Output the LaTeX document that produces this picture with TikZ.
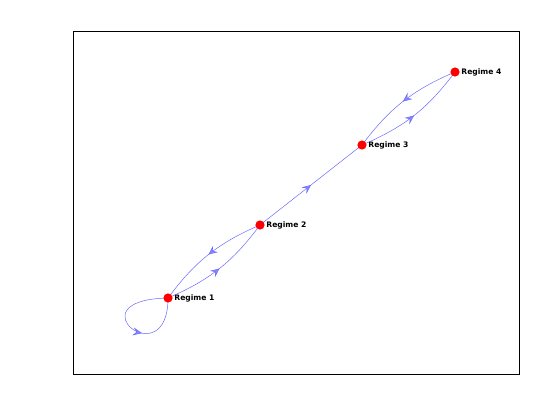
\documentclass[tikz,border=0pt]{standalone}
\usepackage{fontspec}
\setsansfont{DejaVu Sans}
\usetikzlibrary{arrows.meta,decorations.markings}
\definecolor{edgeblue}{RGB}{105,105,255}
\begin{document}
\begin{tikzpicture}[x=1pt, y=-1pt,
    regime/.style={circle, minimum size=9pt, inner sep=0pt,
        label={[font=\sffamily\bfseries\fontsize{7.6}{9}\selectfont, label distance=0pt, inner sep=1.5pt]right:#1}},
    midarrow/.style={edgeblue, line width=0.5pt, postaction={decorate},
        decoration={markings, mark=at position #1 with {\arrow{Stealth[length=9pt, width=8pt, inset=3.5pt, fill=edgeblue!80]}}}},
    midarrow/.default=0.5
]
\useasboundingbox (0,0) rectangle (560,420);
\draw[line width=0.5pt] (73,31) rectangle (519,374);

\node[regime=Regime 1] (r1) at (168,298) {};
\node[regime=Regime 2] (r2) at (260,225) {};
\node[regime=Regime 3] (r3) at (362,145) {};
\node[regime=Regime 4] (r4) at (455,72)  {};

\draw[midarrow] (r1.center) to[bend right=15] (r2.center);
\draw[midarrow] (r2.center) to[bend right=15] (r1.center);
\draw[midarrow] (r2.center) -- (r3.center);
\draw[midarrow] (r3.center) to[bend right=15] (r4.center);
\draw[midarrow] (r4.center) to[bend right=15] (r3.center);
\draw[midarrow=0.6] (r1.center) .. controls +(-97,2) and +(0,79) .. (r1.center);

% markers on top of the edges
\foreach \n in {r1,r2,r3,r4}
  \fill[red] (\n) circle (4.6pt);
\end{tikzpicture}
\end{document}
